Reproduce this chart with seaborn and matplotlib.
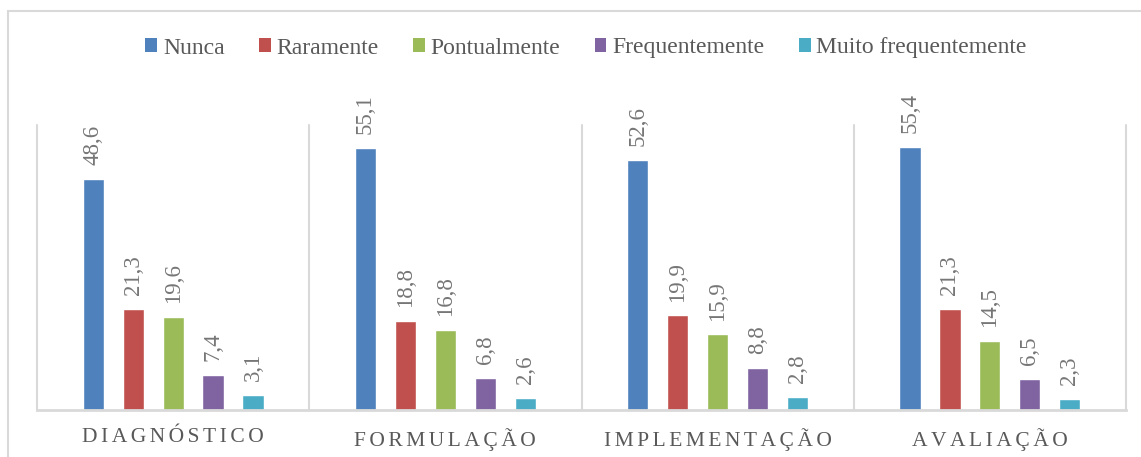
import matplotlib
matplotlib.use('Agg')
import matplotlib.pyplot as plt
import seaborn as sns
import pandas as pd
from matplotlib.lines import Line2D
from matplotlib.patches import Patch

categories = ['DIAGNÓSTICO', 'FORMULAÇÃO', 'IMPLEMENTAÇÃO', 'AVALIAÇÃO']
series = ['Nunca', 'Raramente', 'Pontualmente', 'Frequentemente', 'Muito frequentemente']
nunca = [48.6, 55.1, 52.6, 55.4]
raramente = [21.3, 18.8, 19.9, 21.3]
pontualmente = [19.6, 16.8, 15.9, 14.5]
frequentemente = [7.4, 6.8, 8.8, 6.5]
muito_frequentemente = [3.1, 2.6, 2.8, 2.3]
colors = ['#4F81BD', '#C0504D', '#9BBB59', '#8064A2', '#4BACC6']

sns.set_style('white')
plt.rcParams['font.family'] = ['Liberation Serif', 'DejaVu Serif']

rows = []
for s, vals in zip(series, [nunca, raramente, pontualmente, frequentemente, muito_frequentemente]):
    for c, v in zip(categories, vals):
        rows.append({'cat': c, 'serie': s, 'val': v})
df = pd.DataFrame(rows)

W, H = 1141, 457
fig = plt.figure(figsize=(W / 100, H / 100), dpi=100)
ax = fig.add_axes([37 / W, 1 - 410 / H, (1126 - 37) / W, (410 - 125) / H])
sns.barplot(data=df, x='cat', y='val', hue='serie', order=categories, hue_order=series,
            palette=colors, width=0.733, gap=0.47, saturation=1, legend=False, ax=ax,
            errorbar=None)

for cont, vals in zip(ax.containers, [nunca, raramente, pontualmente, frequentemente, muito_frequentemente]):
    ax.bar_label(cont, labels=[f'{v:.1f}'.replace('.', ',') for v in vals], rotation=90,
                 padding=10, fontsize=16.5, color='#767676')

ax.set_xlim(-0.5, len(categories) - 0.5)
ax.set_ylim(0, 60)
ax.set_yticks([])
ax.set_xlabel('')
ax.set_ylabel('')
ax.set_xticks(range(len(categories)))
ax.set_xticklabels(['\u200a\u200a'.join(c) for c in categories], fontsize=15.5, color='#595959')
ax.tick_params(axis='x', length=0, pad=13)
for side in ['left', 'right', 'top']:
    ax.spines[side].set_visible(False)
ax.spines['bottom'].set_color('#d9d9d9')
ax.spines['bottom'].set_linewidth(2)
for i in range(len(categories) + 1):
    ax.axvline(i - 0.5, color='#d9d9d9', lw=1.5, clip_on=False, zorder=0)

fig.add_artist(Line2D([8 / W, 1], [1 - 11 / H, 1 - 11 / H], transform=fig.transFigure,
                      color='#d9d9d9', lw=1.5))
fig.add_artist(Line2D([8 / W, 8 / W], [0, 1 - 11 / H], transform=fig.transFigure,
                      color='#d9d9d9', lw=1.5))

handles = [Patch(facecolor=c, edgecolor='none') for c in colors]
fig.legend(handles, series, loc='center', bbox_to_anchor=(586 / W, 1 - 48 / H), ncol=5,
           frameon=False, fontsize=17, handlelength=0.5, handleheight=0.5,
           handletextpad=0.25, columnspacing=1.45, labelcolor='#595959')

fig.savefig('out.png', dpi=100)
